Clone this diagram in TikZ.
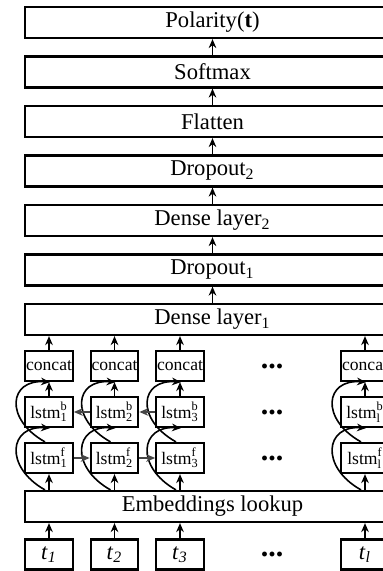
\documentclass[tikz,border=0pt]{standalone}
\usepackage{fontspec}
\setmainfont{Liberation Serif}
\usepackage{amsmath}
\usetikzlibrary{arrows.meta,calc}
\definecolor{hgray}{RGB}{70,70,70}
\begin{document}
\begin{tikzpicture}[x=0.5pt,y=-0.5pt,
  bigbox/.style={draw,line width=1.1pt,minimum width=187.5pt,minimum height=15.5pt,inner sep=0pt,font=\fontsize{11.3}{12}\selectfont},
  colbox/.style={draw,line width=1.1pt,minimum width=23.75pt,minimum height=15pt,inner sep=0pt,font=\fontsize{8.8}{10}\selectfont},
  tbox/.style={colbox,font=\fontsize{11.3}{12}\selectfont},
  arr/.style={line width=0.8pt,-{Stealth[length=4.5pt,width=3.8pt]}},
  harr/.style={arr,draw=hgray,-{Stealth[length=4.5pt,width=3.8pt,fill=hgray]}},
  dotsn/.style={inner sep=0pt,font=\fontsize{15}{15}\selectfont\bfseries}]
\useasboundingbox (0,0) rectangle (382,571);
% stacked layers
\node[bigbox] (pol) at (212.5,22.5) {Polarity(\textbf{t})};
\node[bigbox] (soft) at (212.5,72) {Softmax};
\node[bigbox] (flat) at (212.5,121.5) {Flatten};
\node[bigbox] (drop2) at (212.5,171) {Dropout\textsubscript{2}};
\node[bigbox] (dense2) at (212.5,220.5) {Dense layer\textsubscript{2}};
\node[bigbox] (drop1) at (212.5,270) {Dropout\textsubscript{1}};
\node[bigbox] (dense1) at (212.5,319.5) {Dense layer\textsubscript{1}};
\node[bigbox] (emb) at (212.5,506.5) {Embeddings lookup};
\foreach \a/\b in {soft/pol,flat/soft,drop2/flat,dense2/drop2,drop1/dense2,dense1/drop1}
  \draw[arr] (\a.north) -- (\b.south);
% columns
\foreach \i/\x/\s in {1/49/1,2/114.5/2,3/180/3,4/365/l}{
  \node[colbox] (cc\i) at (\x,366) {concat};
  \node[colbox] (lb\i) at (\x,412) {lstm$^{\textnormal{b}}_{\textnormal{\s}}$};
  \node[colbox] (lf\i) at (\x,458) {lstm$^{\textnormal{f}}_{\textnormal{\s}}$};
  \node[tbox] (t\i) at (\x,554.5) {\textit{t}\textsubscript{\textit{\s}}};
  \draw[arr] (cc\i.north) -- (cc\i.north |- dense1.south);
  \draw[arr] (lb\i.north) -- (cc\i.south);
  \draw[arr] (lf\i.south |- emb.north) -- (lf\i.south);
  \draw[arr] (t\i.north) -- (t\i.north |- emb.south);
  \draw[arr] ([xshift=-2pt]lf\i.south |- emb.north) .. controls +(-41,-23) and +(-41,-3) .. ([xshift=0.5pt]lb\i.south);
  \draw[arr] ([xshift=-2pt]lf\i.north) .. controls +(-41,-23) and +(-41,-3) .. ([xshift=0.5pt]cc\i.south);
}
\draw[harr] (lf1.east) -- (lf2.west);
\draw[harr] (lf2.east) -- (lf3.west);
\draw[harr] (lb2.west) -- (lb1.east);
\draw[harr] (lb3.west) -- (lb2.east);
% ellipses
\node[dotsn] (d1) at (272,366) {...};
\node[dotsn] (d2) at (272,412) {...};
\node[dotsn] (d3) at (272,458) {...};
\node[dotsn] (d4) at (272,554.5) {...};
\end{tikzpicture}
\end{document}
